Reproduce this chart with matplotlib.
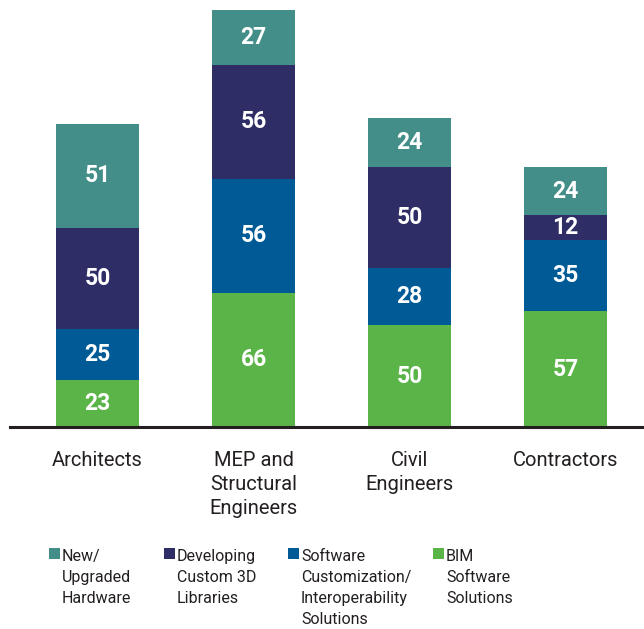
import matplotlib
matplotlib.use("Agg")
import matplotlib.pyplot as plt
from matplotlib.patches import Rectangle
import numpy as np

plt.rcParams['font.family'] = ['Roboto', 'DejaVu Sans']

categories = ["Architects", "MEP and\nStructural\nEngineers", "Civil\nEngineers", "Contractors"]
series_names = ["New/\nUpgraded\nHardware", "Developing\nCustom 3D\nLibraries",
                "Software\nCustomization/\nInteroperability\nSolutions", "BIM\nSoftware\nSolutions"]
bim_software = [23, 66, 50, 57]
software_custom = [25, 56, 28, 35]
custom_3d = [50, 56, 50, 12]
new_hardware = [51, 27, 24, 24]

colors = {"hw": "#448E8A", "3d": "#2E2D66", "sw": "#005A96", "bim": "#5BB447"}

fig = plt.figure(figsize=(6.44, 6.29), dpi=100)
ax = fig.add_axes([10/644, 202/629, 634/644, 417/629])

x = np.arange(len(categories))
width = 83/156
stack = [(bim_software, colors["bim"]), (software_custom, colors["sw"]),
         (custom_3d, colors["3d"]), (new_hardware, colors["hw"])]
bottom = np.zeros(len(categories))
for vals, col in stack:
    vals = np.array(vals, dtype=float)
    ax.bar(x, vals, width, bottom=bottom, color=col, linewidth=0)
    for xi, b, v in zip(x, bottom, vals):
        ax.text(xi, b + v/2, f"{int(v)}", ha='center', va='center', color='white',
                fontsize=16.5, fontweight='bold')
    bottom += vals

ax.set_xlim(-87.5/156, (644-97.5)/156)
ax.set_ylim(0, 205)
for s in ['top', 'right', 'left']:
    ax.spines[s].set_visible(False)
ax.spines['bottom'].set_color('#231F20')
ax.spines['bottom'].set_linewidth(2.2)
ax.set_yticks([])
ax.set_xticks(x)
ax.set_xticklabels(categories, fontsize=14.5, color='#231F20', linespacing=1.34)
ax.tick_params(axis='x', length=0, pad=17)

# legend
leg_colors = [colors["hw"], colors["3d"], colors["sw"], colors["bim"]]
sq_x = [49, 164, 288, 433]
for sx, name, col in zip(sq_x, series_names, leg_colors):
    fig.patches.append(Rectangle((sx/644, 1 - 559/629), 11/644, 11/629,
                                 transform=fig.transFigure, color=col, linewidth=0))
    fig.text((sx + 13)/644, 1 - 549/629, name, ha='left', va='top', fontsize=11.5,
             color='#231F20', linespacing=1.5)

fig.savefig("out.png", dpi=100, facecolor='white')
